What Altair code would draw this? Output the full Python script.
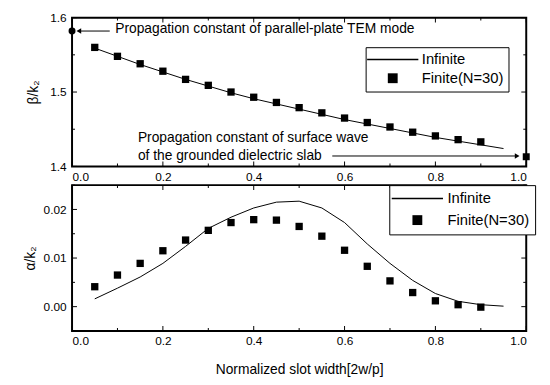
import altair as alt
import pandas as pd

FONT = "Liberation Sans"

# ---------------- data ----------------
x_fin = [0.05, 0.10, 0.15, 0.20, 0.25, 0.30, 0.35, 0.40, 0.45,
         0.50, 0.55, 0.60, 0.65, 0.70, 0.75, 0.80, 0.85, 0.90]
beta_fin = [1.560, 1.548, 1.538, 1.528, 1.517, 1.509, 1.500, 1.493, 1.486,
            1.479, 1.472, 1.465, 1.459, 1.453, 1.446, 1.441, 1.436, 1.433]
alpha_fin = [0.0041, 0.0065, 0.0089, 0.0115, 0.0137, 0.0157, 0.0173, 0.0179, 0.0178,
             0.0165, 0.0145, 0.0116, 0.0083, 0.0053, 0.0029, 0.0012, 0.0004, -0.0001]

x_inf = [0.05, 0.10, 0.15, 0.20, 0.25, 0.30, 0.35, 0.40, 0.45, 0.50,
         0.55, 0.60, 0.65, 0.70, 0.75, 0.80, 0.85, 0.90, 0.95]
beta_inf = [1.559, 1.548, 1.537, 1.527, 1.517, 1.508, 1.499, 1.491, 1.484, 1.477,
            1.470, 1.463, 1.457, 1.451, 1.445, 1.439, 1.434, 1.429, 1.424]
alpha_inf = [0.0016, 0.0038, 0.0061, 0.0089, 0.0124, 0.0161, 0.0184, 0.0203, 0.0215, 0.0217,
             0.0203, 0.0173, 0.0129, 0.0089, 0.0054, 0.0027, 0.0011, 0.0004, 0.0001]

# limiting values marked on the top panel
limit_x = [0.0, 1.0]
limit_beta = [1.582, 1.413]
limit_shape = ["circle", "square"]

series_names = ["Infinite", "Finite(N=30)"]

ann_text = ["Propagation constant of parallel-plate TEM mode",
            "Propagation constant of surface wave",
            "of the grounded dielectric slab"]
ann_x = [0.095, 0.145, 0.145]
ann_y = [1.584, 1.438, 1.414]

arrow_x1 = [0.083, 0.573]
arrow_x2 = [0.015, 0.980]
arrow_y = [1.582, 1.414]
arrow_head = ["triangle-left", "triangle-right"]

x_major = [0.0, 0.2, 0.4, 0.6, 0.8, 1.0]
x_minor = [0.1, 0.3, 0.5, 0.7, 0.9]
beta_major = [1.4, 1.5, 1.6]
beta_minor = [1.45, 1.55]
alpha_major = [0.0, 0.01, 0.02]
alpha_minor = [-0.005, 0.005, 0.015, 0.025]

W = 461
H1 = 151
H2 = 148

xsc = alt.Scale(domain=[0, 1], nice=False, zero=False)
ysc1 = alt.Scale(domain=[1.4, 1.6], nice=False, zero=False)
ysc2 = alt.Scale(domain=[-0.005, 0.025], nice=False, zero=False)

SQUARE = "M-1,-1H1V1H-1Z"
LINE = "M-5.2,-0.15H5.2V0.15H-5.2Z"
shape_scale = alt.Scale(domain=series_names, range=[LINE, SQUARE])


def tick_layers(xmaj, xmin, ymaj, ymin, H):
    layers = []
    for vals, ln in [(xmaj, 5), (xmin, 3)]:
        d = pd.DataFrame({"x": vals})
        b = alt.Chart(d).mark_tick(color="black", orient="vertical", size=ln,
                                   thickness=1, opacity=1)
        layers.append(b.encode(x="x:Q", y=alt.value(H - ln / 2)))
        layers.append(b.encode(x="x:Q", y=alt.value(ln / 2)))
    for vals, ln in [(ymaj, 5), (ymin, 3)]:
        d = pd.DataFrame({"y": vals})
        b = alt.Chart(d).mark_tick(color="black", orient="horizontal", size=ln,
                                   thickness=1, opacity=1)
        layers.append(b.encode(y="y:Q", x=alt.value(ln / 2)))
        layers.append(b.encode(y="y:Q", x=alt.value(W - ln / 2)))
    return layers


def legend(lx, ly, pad, rowpad, soff, loff):
    return alt.Legend(title=None, orient="none", legendX=lx, legendY=ly,
                      strokeColor="black", fillColor="white", padding=pad,
                      labelFont=FONT, labelFontSize=15, labelColor="black",
                      labelOffset=loff, rowPadding=rowpad, symbolOffset=soff,
                      symbolFillColor="black", symbolStrokeWidth=0)


def panel(y_inf, y_fin, ysc, yvals, yfmt, ytitle, H, leg, xtitle, ymaj, ymin, tpad):
    xaxis = alt.Axis(values=x_major, format=".1f", ticks=False, domain=False, grid=False,
                     labelFont=FONT, labelFontSize=12, labelPadding=5, labelColor="black",
                     title=xtitle, titleFont=FONT, titleFontSize=14, titleFontWeight="normal",
                     titleColor="black", titlePadding=16)
    yaxis = alt.Axis(values=yvals, format=yfmt, ticks=False, domain=False, grid=False,
                     labelFont=FONT, labelFontSize=12, labelPadding=6, labelColor="black",
                     title=ytitle, titleFont=FONT, titleFontSize=14, titleFontWeight="normal",
                     titleColor="black", titlePadding=tpad)
    df_inf = pd.DataFrame({"x": x_inf, "y": y_inf})
    df_fin = pd.DataFrame({"x": x_fin, "y": y_fin, "series": series_names[1]})
    line = alt.Chart(df_inf).mark_line(color="black", strokeWidth=1).encode(
        x=alt.X("x:Q", scale=xsc, axis=xaxis),
        y=alt.Y("y:Q", scale=ysc, axis=yaxis))
    pts = alt.Chart(df_fin).mark_point(filled=True, fill="black", strokeWidth=0,
                                       size=55, opacity=1).encode(
        x=alt.X("x:Q", scale=xsc),
        y=alt.Y("y:Q", scale=ysc),
        shape=alt.Shape("series:N", scale=shape_scale, legend=leg))
    return [line, pts], tick_layers(x_major, x_minor, ymaj, ymin, H)


top_layers, top_ticks = panel(beta_inf, beta_fin, ysc1, beta_major, ".1f", "β/k₂", H1,
                              legend(298, 30, 5, 3, 15, 22), None, beta_major, beta_minor, 9)

df_lim = pd.DataFrame({"x": limit_x, "y": limit_beta, "s": limit_shape})
lim = alt.Chart(df_lim).mark_point(filled=True, color="black", size=50, opacity=1).encode(
    x=alt.X("x:Q", scale=xsc), y=alt.Y("y:Q", scale=ysc1),
    shape=alt.Shape("s:N", scale=None, legend=None))

df_ann = pd.DataFrame({"x": ann_x, "y": ann_y, "t": ann_text})
ann = alt.Chart(df_ann).mark_text(align="left", baseline="middle", font=FONT,
                                  fontSize=14, color="black").encode(
    x=alt.X("x:Q", scale=xsc), y=alt.Y("y:Q", scale=ysc1), text="t:N")

df_arr = pd.DataFrame({"x": arrow_x1, "x2": arrow_x2, "y": arrow_y, "h": arrow_head})
arr = alt.Chart(df_arr).mark_rule(color="black", strokeWidth=1).encode(
    x=alt.X("x:Q", scale=xsc), x2="x2:Q", y=alt.Y("y:Q", scale=ysc1))
heads = alt.Chart(df_arr).mark_point(filled=True, color="black", size=30, opacity=1).encode(
    x=alt.X("x2:Q", scale=xsc), y=alt.Y("y:Q", scale=ysc1),
    shape=alt.Shape("h:N", scale=None, legend=None))

top = alt.layer(*top_layers, lim, ann, arr, heads, *top_ticks).properties(width=W, height=H1)

bot_layers, bot_ticks = panel(alpha_inf, alpha_fin, ysc2, alpha_major, ".2f", "α/k₂", H2,
                              legend(322, 0, 6, 6, 15, 23), "Normalized slot width[2w/p]",
                              alpha_major, alpha_minor, 6)
bot = alt.layer(*bot_layers, *bot_ticks).properties(width=W, height=H2)

chart = alt.vconcat(top, bot, spacing=0).resolve_scale(
    shape="independent", x="independent", y="independent"
).resolve_legend(shape="independent").properties(
    padding={"left": 14, "top": 0, "right": 5, "bottom": 0},
    background="white"
).configure_view(stroke="black", strokeWidth=2)

chart.save("out.html", embed_options={"renderer": "svg", "actions": False})
